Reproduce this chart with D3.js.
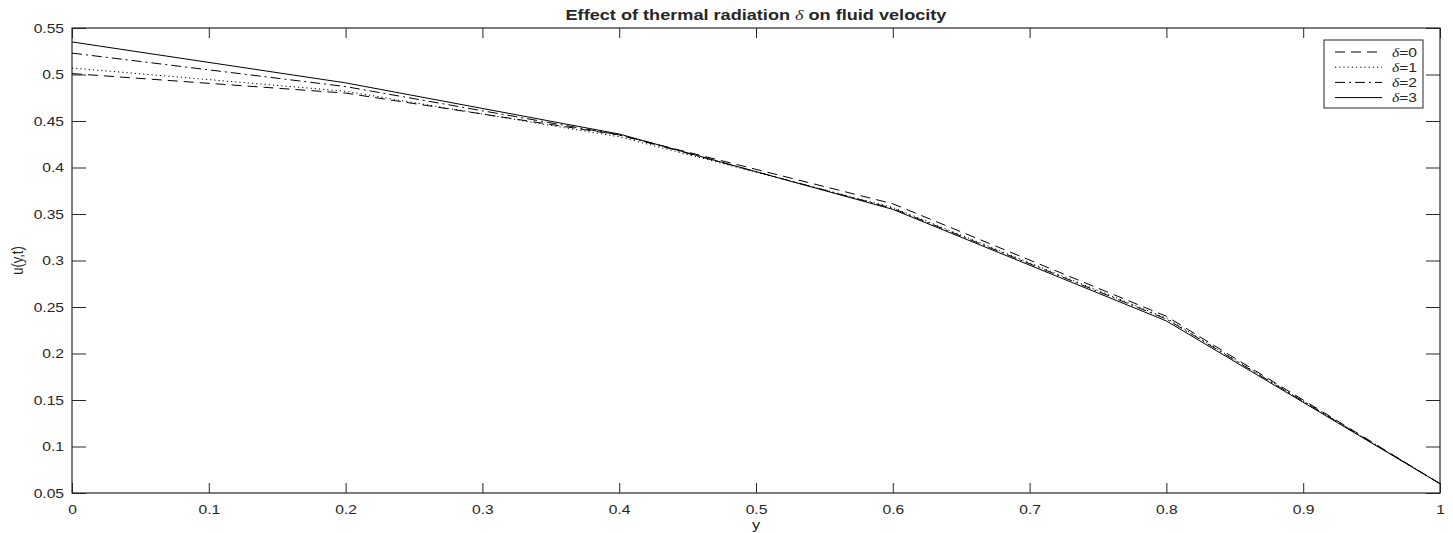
<!DOCTYPE html>
<html>
<head>
<meta charset="utf-8">
<script src="https://cdn.jsdelivr.net/npm/d3@7"></script>
<style>
  html, body { margin: 0; padding: 0; background: #fff; }
  svg text { font-family: "Liberation Sans", Arial, Helvetica, sans-serif; fill: #262626; }
</style>
</head>
<body>
<svg id="chart" width="1453" height="533"></svg>
<script>
// ---- data ----
const yPositions = [0, 0.2, 0.4, 0.6, 0.8, 1.0];
const delta0 = [0.501, 0.480, 0.435, 0.361, 0.240, 0.060];
const delta1 = [0.507, 0.482, 0.433, 0.357, 0.238, 0.060];
const delta2 = [0.523, 0.487, 0.435, 0.356, 0.237, 0.060];
const delta3 = [0.535, 0.491, 0.436, 0.355, 0.235, 0.060];
const seriesNames = ["δ=0", "δ=1", "δ=2", "δ=3"];
const xTicks = [0, 0.1, 0.2, 0.3, 0.4, 0.5, 0.6, 0.7, 0.8, 0.9, 1];
const yTicks = [0.05, 0.1, 0.15, 0.2, 0.25, 0.3, 0.35, 0.4, 0.45, 0.5, 0.55];
const titleText = "Effect of thermal radiation";
const titleText2 = " on fluid velocity";
const xLabel = "y";
const yLabel = "u(y,t)";

// ---- layout ----
const W = 1453, H = 533;
const margin = { left: 72, right: 13, top: 28, bottom: 40 };
const iw = W - margin.left - margin.right;
const ih = H - margin.top - margin.bottom;
const stretch = 1.25;
const axisColor = "#262626";

const svg = d3.select("#chart");
const g = svg.append("g").attr("transform", `translate(${margin.left},${margin.top})`);

const x = d3.scaleLinear().domain([0, 1]).range([0, iw]);
const y = d3.scaleLinear().domain([0.05, 0.55]).range([ih, 0]);

function styleAxis(sel) {
  sel.select(".domain").remove();
  sel.selectAll(".tick line").attr("stroke", axisColor).attr("stroke-width", 1);
  sel.selectAll(".tick text").attr("fill", axisColor).style("font-size", "12.5px");
}

// bottom axis
const xAxis = g.append("g").attr("transform", `translate(0,${ih})`)
  .call(d3.axisBottom(x).tickValues(xTicks).tickFormat(d => d3.format("")(d)).tickSizeInner(-10).tickSizeOuter(0).tickPadding(12));
styleAxis(xAxis);
xAxis.selectAll(".tick text").attr("transform", `scale(${stretch},1)`).attr("dy", "0.71em");
// top axis ticks
const xTop = g.append("g")
  .call(d3.axisTop(x).tickValues(xTicks).tickFormat("").tickSizeInner(-10).tickSizeOuter(0));
styleAxis(xTop);
// left axis
const yAxis = g.append("g")
  .call(d3.axisLeft(y).tickValues(yTicks).tickFormat(d => d3.format("")(+d.toFixed(2))).tickSizeInner(-14).tickSizeOuter(0).tickPadding(8));
styleAxis(yAxis);
yAxis.selectAll(".tick text").each(function() {
  const t = d3.select(this);
  const xx = +t.attr("x");
  t.attr("x", xx / stretch).attr("transform", `scale(${stretch},1)`);
});
// right axis ticks
const yRight = g.append("g").attr("transform", `translate(${iw},0)`)
  .call(d3.axisRight(y).tickValues(yTicks).tickFormat("").tickSizeInner(-14).tickSizeOuter(0));
styleAxis(yRight);

// box
g.append("rect").attr("x", 0).attr("y", 0).attr("width", iw).attr("height", ih)
  .attr("fill", "none").attr("stroke", axisColor).attr("stroke-width", 1.2);

// lines
const dashes = ["10,6", "1.2,3", "10,4,2,4", null];
const allSeries = [delta0, delta1, delta2, delta3];
const line = d3.line().x((d, i) => x(yPositions[i])).y(d => y(d));
allSeries.forEach((s, k) => {
  g.append("path").datum(s).attr("d", line)
    .attr("fill", "none").attr("stroke", "#000").attr("stroke-width", 1)
    .attr("stroke-dasharray", dashes[k]);
});

// title
const title = svg.append("text")
  .attr("x", 0).attr("y", 0)
  .attr("text-anchor", "middle")
  .attr("transform", `translate(${margin.left + iw / 2},20) scale(${stretch},1)`)
  .style("font-size", "14.5px").style("font-weight", "bold").attr("fill", "#000");
title.append("tspan").text(titleText + " ");
title.append("tspan").text("δ").style("font-style", "italic").style("font-weight", "normal")
  .style("font-family", "'Liberation Serif', 'DejaVu Serif', serif");
title.append("tspan").text(titleText2);

// axis labels
svg.append("text")
  .attr("text-anchor", "middle")
  .attr("transform", `translate(${margin.left + iw / 2},529) scale(${stretch},1)`)
  .style("font-size", "13px").text(xLabel);
svg.append("text")
  .attr("text-anchor", "middle")
  .attr("transform", `translate(23,${margin.top + ih / 2}) rotate(-90) scale(1,${stretch})`)
  .style("font-size", "13px").text(yLabel);

// legend
const lg = svg.append("g").attr("transform", "translate(1324,40)");
lg.append("rect").attr("width", 99).attr("height", 68)
  .attr("fill", "#fff").attr("stroke", axisColor).attr("stroke-width", 1);
seriesNames.forEach((name, k) => {
  const yy = 12 + k * 15.2;
  lg.append("line").attr("x1", 11).attr("x2", 58).attr("y1", yy).attr("y2", yy)
    .attr("stroke", "#000").attr("stroke-width", 1).attr("stroke-dasharray", dashes[k]);
  const t = lg.append("text").attr("transform", `translate(68,${yy + 4.5}) scale(${stretch},1)`)
    .style("font-size", "12.5px").attr("fill", "#000");
  t.append("tspan").text("δ").style("font-style", "italic")
    .style("font-family", "'Liberation Serif', 'DejaVu Serif', serif");
  t.append("tspan").text(name.slice(1));
});
</script>
</body>
</html>
